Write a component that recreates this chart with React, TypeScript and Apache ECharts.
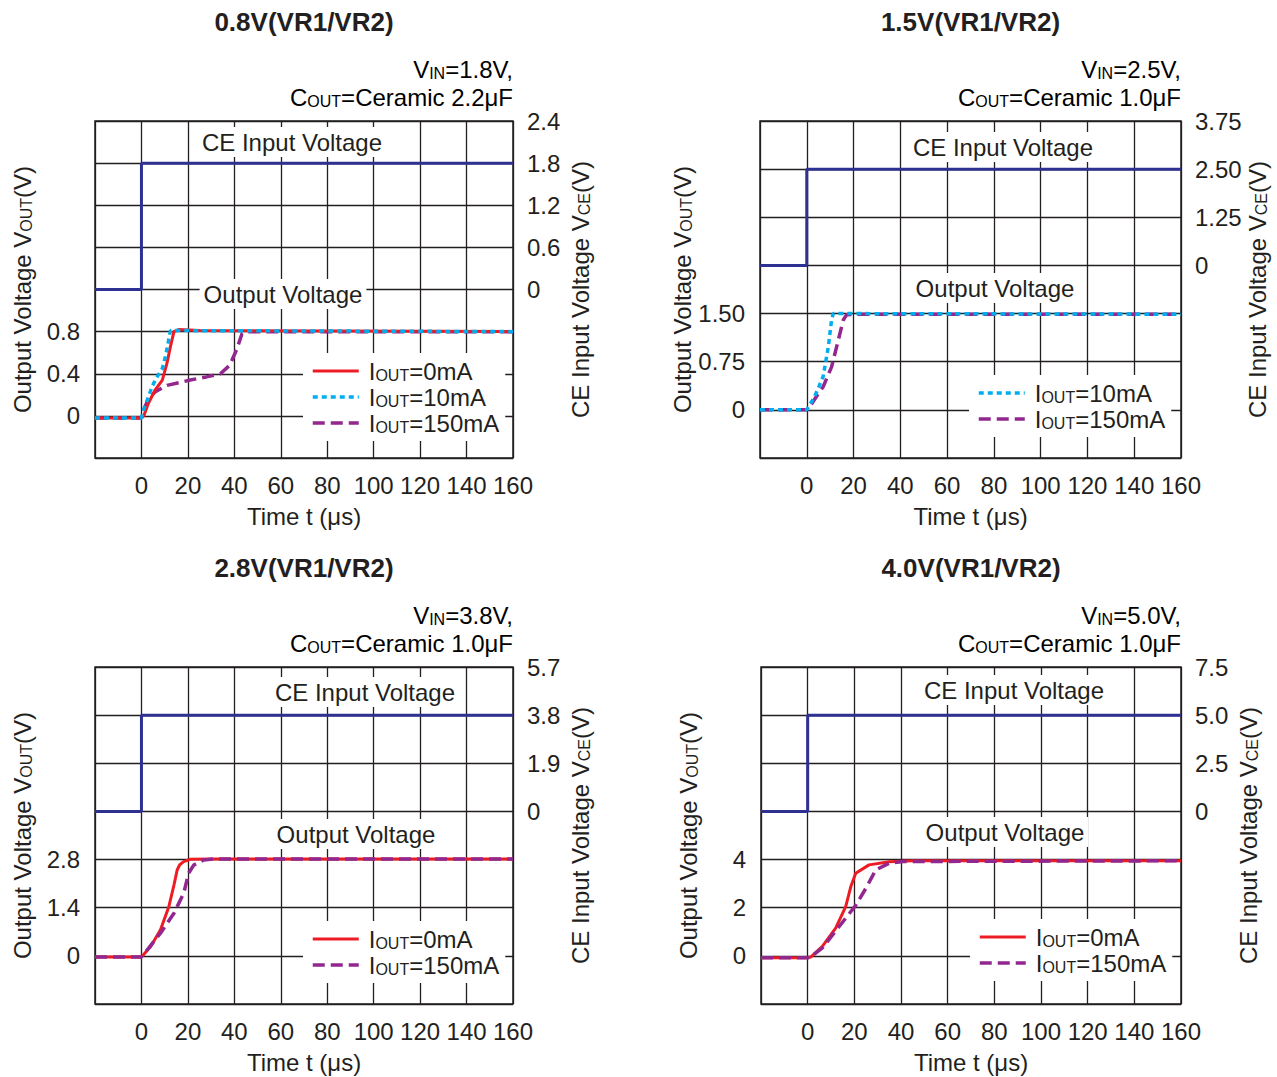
import React, { useEffect, useRef } from "react";
import * as echarts from "echarts";

const FONT = '"Liberation Sans", Arial, Helvetica, sans-serif';
const INK = "#231f20";
const RED = "#ed1c24";
const CYAN = "#00aeef";
const PURPLE = "#92278f";
const NAVY = "#2e3192";

// ---------- titles & conditions ----------
const titles = ["0.8V(VR1/VR2)", "1.5V(VR1/VR2)", "2.8V(VR1/VR2)", "4.0V(VR1/VR2)"];
const vinTexts = ["1.8V,", "2.5V,", "3.8V,", "5.0V,"];
const coutTexts = ["Ceramic 2.2μF", "Ceramic 1.0μF", "Ceramic 1.0μF", "Ceramic 1.0μF"];

// ---------- time axis ----------
const xMin = -20;
const xMax = 160;
const xInterval = 20;

// ---------- axis scales ----------
const leftMin = [-0.4, -0.75, -1.4, -2];
const leftMax = [2.8, 4.5, 8.4, 12];
const leftInterval = [0.4, 0.75, 1.4, 2];
const rightMin = [-2.4, -5, -7.6, -10];
const rightMax = [2.4, 3.75, 5.7, 7.5];
const rightInterval = [0.6, 1.25, 1.9, 2.5];

// ---------- tick labels ----------
const leftTickValues = [[0, 0.4, 0.8], [0, 0.75, 1.5], [0, 1.4, 2.8], [0, 2, 4]];
const leftTickLabels = [["0", "0.4", "0.8"], ["0", "0.75", "1.50"], ["0", "1.4", "2.8"], ["0", "2", "4"]];
const rightTickValues = [[0, 0.6, 1.2, 1.8, 2.4], [0, 1.25, 2.5, 3.75], [0, 1.9, 3.8, 5.7], [0, 2.5, 5, 7.5]];
const rightTickLabels = [["0", "0.6", "1.2", "1.8", "2.4"], ["0", "1.25", "2.50", "3.75"], ["0", "1.9", "3.8", "5.7"], ["0", "2.5", "5.0", "7.5"]];

// ---------- CE input voltage (step) ----------
const ceTime = [-20, 0, 0, 160];
const ceValues = [
  [0, 0, 1.8, 1.8],
  [0, 0, 2.5, 2.5],
  [0, 0, 3.8, 3.8],
  [0, 0, 5.0, 5.0],
];

// ---------- Output voltage: panel 1 (0.8V) ----------
const p1_0mA_t = [-20, 0, 1, 3, 6, 9, 11, 12.5, 14, 16, 25, 160];
const p1_0mA_v = [-0.02, -0.02, 0.0, 0.12, 0.25, 0.34, 0.5, 0.66, 0.8, 0.82, 0.81, 0.8];
const p1_10mA_t = [-20, 0, 1, 3, 4.6, 7, 9, 10.5, 11.7, 12.5, 14, 160];
const p1_10mA_v = [-0.02, -0.02, 0.06, 0.18, 0.28, 0.38, 0.45, 0.58, 0.72, 0.81, 0.81, 0.8];
const p1_150mA_t = [-20, 0, 1, 3, 6, 11, 21, 28, 34, 38, 41, 43.3, 45, 160];
const p1_150mA_v = [-0.02, -0.02, 0.06, 0.16, 0.23, 0.29, 0.34, 0.37, 0.4, 0.48, 0.63, 0.78, 0.8, 0.8];

// ---------- panel 2 (1.5V) ----------
const p2_10mA_t = [-20, 0, 3.4, 7, 9.2, 10.6, 11.3, 13, 160];
const p2_10mA_v = [0, 0, 0.21, 0.52, 0.98, 1.4, 1.5, 1.5, 1.49];
const p2_150mA_t = [-20, 0, 1.3, 4, 7, 10.6, 13.5, 15.6, 17, 20, 160];
const p2_150mA_v = [0, 0, 0.05, 0.2, 0.36, 0.67, 1.09, 1.4, 1.48, 1.49, 1.49];

// ---------- panel 3 (2.8V) ----------
const p3_0mA_t = [-20, 0, 4, 8.2, 11.8, 14, 15.4, 16.5, 18.2, 21, 30, 160];
const p3_0mA_v = [-0.03, -0.03, 0.27, 0.76, 1.43, 2.06, 2.5, 2.65, 2.74, 2.81, 2.82, 2.82];
const p3_150mA_t = [-20, 0, 3, 8.2, 14, 18.2, 20.3, 22.5, 26.8, 32, 160];
const p3_150mA_v = [-0.03, -0.03, 0.22, 0.66, 1.24, 1.82, 2.4, 2.64, 2.79, 2.82, 2.82];

// ---------- panel 4 (4.0V) ----------
const p4_0mA_t = [-20, 0, 1.3, 6.3, 12, 16.3, 17.5, 18.5, 20.6, 26.3, 35, 45, 160];
const p4_0mA_v = [-0.08, -0.08, -0.05, 0.39, 1.15, 2.05, 2.5, 2.88, 3.43, 3.78, 3.91, 3.95, 3.95];
const p4_150mA_t = [-20, 0, 1.3, 6.3, 13.5, 20.6, 24.9, 29.2, 35, 41, 160];
const p4_150mA_v = [-0.08, -0.08, -0.05, 0.33, 1.22, 2.1, 2.8, 3.57, 3.85, 3.92, 3.95];

// ---------- series names ----------
const N0 = "IOUT=0mA";
const N10 = "IOUT=10mA";
const N150 = "IOUT=150mA";

const zip = (t: number[], v: number[]) => t.map((x, i) => [x, v[i]]);

// layout (pixels)
const grids = [
  { left: 95, top: 121, width: 418, height: 337 },
  { left: 760, top: 121, width: 421, height: 337 },
  { left: 95, top: 667, width: 418, height: 337 },
  { left: 761, top: 667, width: 420, height: 337 },
];
const legendPos = [
  { left: 303, top: 353 },
  { left: 969, top: 375 },
  { left: 303, top: 921 },
  { left: 970, top: 919 },
];
const cePos = [[292, 142], [1003, 147], [365, 692], [1014, 690]];
const outPos = [[283, 294], [995, 288], [356, 834], [1005, 832]];

const BIG = 24;
const SMALL = 16;
const rich = {
  b: { fontSize: BIG, fontFamily: FONT, color: INK, lineHeight: 24, verticalAlign: "bottom" as const },
  s: { fontSize: SMALL, fontFamily: FONT, color: INK, lineHeight: 24, verticalAlign: "bottom" as const },
};

const pick = (vals: number[], labels: string[]) => (v: number) => {
  for (let i = 0; i < vals.length; i++) if (Math.abs(v - vals[i]) < 1e-6) return labels[i];
  return "";
};

const DOT = [5, 4];
const DASH = [12, 6];
const styleOf: Record<string, { color: string; type: any; width: number }> = {
  [N0]: { color: RED, type: "solid", width: 3 },
  [N10]: { color: CYAN, type: DOT, width: 3.5 },
  [N150]: { color: PURPLE, type: DASH, width: 3.5 },
};

export default function App() {
  const ref = useRef<HTMLDivElement>(null);
  useEffect(() => {
    if (!ref.current) return;
    const chart = echarts.init(ref.current, undefined, { renderer: "svg" });

    const xAxis = grids.map((_, i) => ({
      type: "value",
      gridIndex: i,
      min: xMin,
      max: xMax,
      interval: xInterval,
      name: "Time t (μs)",
      nameLocation: "middle",
      nameGap: 46,
      nameTextStyle: { fontSize: BIG, fontFamily: FONT, color: INK },
      axisLine: { show: false },
      axisTick: { show: false },
      axisLabel: {
        fontSize: BIG,
        fontFamily: FONT,
        color: INK,
        margin: 15,
        formatter: (v: number) => (v <= xMin + 1e-6 ? "" : String(v)),
      },
      splitLine: { show: true, lineStyle: { color: INK, width: 1.3 } },
    }));

    const yAxis: any[] = [];
    grids.forEach((_, i) => {
      yAxis.push({
        type: "value",
        gridIndex: i,
        position: "left",
        min: leftMin[i],
        max: leftMax[i],
        interval: leftInterval[i],
        name: "{b|Output Voltage V}{s|OUT}{b|(V)}",
        nameLocation: "middle",
        nameGap: 61,
        nameTextStyle: { rich },
        axisLine: { show: false },
        axisTick: { show: false },
        axisLabel: {
          fontSize: BIG,
          fontFamily: FONT,
          color: INK,
          margin: 15,
          formatter: pick(leftTickValues[i], leftTickLabels[i]),
        },
        splitLine: { show: true, lineStyle: { color: INK, width: 1.3 } },
      });
      yAxis.push({
        type: "value",
        gridIndex: i,
        position: "right",
        min: rightMin[i],
        max: rightMax[i],
        interval: rightInterval[i],
        name: "{b|CE Input Voltage V}{s|CE}{b|(V)}",
        nameLocation: "middle",
        nameGap: 55,
        nameTextStyle: { rich },
        axisLine: { show: false },
        axisTick: { show: false },
        axisLabel: {
          fontSize: BIG,
          fontFamily: FONT,
          color: INK,
          margin: 14,
          formatter: pick(rightTickValues[i], rightTickLabels[i]),
        },
        splitLine: { show: false },
      });
    });

    const series: any[] = [];
    const outLine = (name: string, panel: number, data: number[][]) => ({
      type: "line",
      name,
      xAxisIndex: panel,
      yAxisIndex: panel * 2,
      data,
      showSymbol: false,
      symbol: "none",
      lineStyle: { ...styleOf[name] },
      itemStyle: { color: styleOf[name].color },
      z: 5,
    });
    // CE step lines
    for (let i = 0; i < 4; i++) {
      series.push({
        type: "line",
        name: "CE" + i,
        xAxisIndex: i,
        yAxisIndex: i * 2 + 1,
        data: zip(ceTime, ceValues[i]),
        showSymbol: false,
        symbol: "none",
        lineStyle: { color: NAVY, width: 3 },
        z: 4,
      });
    }
    // panel 1
    series.push(outLine(N150, 0, zip(p1_150mA_t, p1_150mA_v)));
    series.push(outLine(N0, 0, zip(p1_0mA_t, p1_0mA_v)));
    series.push(outLine(N10, 0, zip(p1_10mA_t, p1_10mA_v)));
    // panel 2
    series.push(outLine(N150, 1, zip(p2_150mA_t, p2_150mA_v)));
    series.push(outLine(N10, 1, zip(p2_10mA_t, p2_10mA_v)));
    // panel 3
    series.push(outLine(N0, 2, zip(p3_0mA_t, p3_0mA_v)));
    series.push(outLine(N150, 2, zip(p3_150mA_t, p3_150mA_v)));
    // panel 4
    series.push(outLine(N0, 3, zip(p4_0mA_t, p4_0mA_v)));
    series.push(outLine(N150, 3, zip(p4_150mA_t, p4_150mA_v)));

    const legendData = [[N0, N10, N150], [N10, N150], [N0, N150], [N0, N150]];
    const legend = legendData.map((d, i) => ({
      data: d.map((name) => ({
        name,
        lineStyle: { color: styleOf[name].color, width: styleOf[name].width, type: styleOf[name].type },
      })),
      orient: "vertical",
      left: legendPos[i].left,
      top: legendPos[i].top,
      itemWidth: 46,
      itemHeight: 14,
      itemGap: 2,
      padding: [6, 6, 6, 8],
      backgroundColor: "#ffffff",
      selectedMode: false,
      itemStyle: { opacity: 0, borderWidth: 0 },
      formatter: (name: string) => `{b|I}{s|OUT}{b|${name.slice(4)}}`,
      textStyle: { rich, padding: [0, 0, 0, 5] },
      z: 8,
    }));

    const graphic: any[] = [];
    for (let i = 0; i < 4; i++) {
      const g = grids[i];
      const right = g.left + g.width;
      const cx = g.left + g.width / 2;
      const topY = i < 2 ? 0 : 546;
      graphic.push({
        type: "text",
        x: cx,
        y: topY + 22,
        z: 10,
        style: {
          text: titles[i],
          font: `bold 26px ${FONT}`,
          fill: INK,
          align: "center",
          verticalAlign: "middle",
        },
      });
      graphic.push({
        type: "text",
        x: right,
        y: topY + 69,
        z: 10,
        style: {
          text: `{b|V}{s|IN}{b|=${vinTexts[i]}}`,
          rich,
          align: "right",
          verticalAlign: "middle",
        },
      });
      graphic.push({
        type: "text",
        x: right,
        y: topY + 97,
        z: 10,
        style: {
          text: `{b|C}{s|OUT}{b|=${coutTexts[i]}}`,
          rich,
          align: "right",
          verticalAlign: "middle",
        },
      });
      graphic.push({
        type: "text",
        x: cePos[i][0],
        y: cePos[i][1],
        z: 10,
        style: {
          text: "CE Input Voltage",
          font: `${BIG}px ${FONT}`,
          fill: INK,
          align: "center",
          verticalAlign: "middle",
          backgroundColor: "#ffffff",
          padding: [3, 4, 3, 4],
        },
      });
      graphic.push({
        type: "text",
        x: outPos[i][0],
        y: outPos[i][1],
        z: 10,
        style: {
          text: "Output Voltage",
          font: `${BIG}px ${FONT}`,
          fill: INK,
          align: "center",
          verticalAlign: "middle",
          backgroundColor: "#ffffff",
          padding: [3, 4, 3, 4],
        },
      });
    }

    chart.setOption({
      animation: false,
      backgroundColor: "#ffffff",
      textStyle: { fontFamily: FONT, color: INK },
      grid: grids.map((g) => ({
        ...g,
        show: true,
        borderColor: INK,
        borderWidth: 1.5,
        backgroundColor: "transparent",
        containLabel: false,
      })),
      xAxis,
      yAxis,
      legend,
      series,
      graphic,
    });
    return () => chart.dispose();
  }, []);
  return (
    <div
      ref={ref}
      style={{ position: "absolute", left: 0, top: 0, width: 1277, height: 1077, background: "#fff" }}
    />
  );
}
